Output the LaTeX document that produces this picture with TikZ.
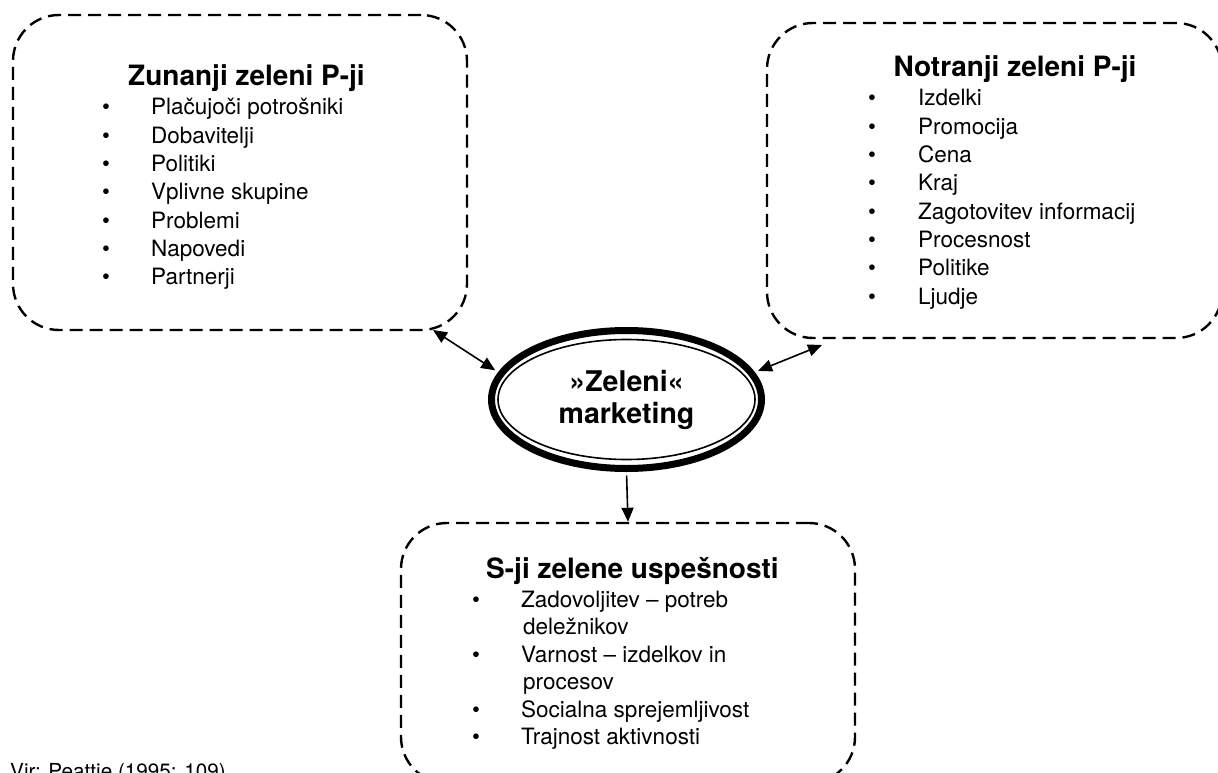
\documentclass[tikz,border=0pt]{standalone}
\usepackage{fontspec}
\setmainfont{TeX Gyre Heros}
\usetikzlibrary{arrows.meta, shapes.geometric, positioning}

\tikzset{
  okvir/.style={draw, line width=2.4pt, dash pattern=on 13pt off 7pt, rounded corners=46pt, inner sep=0pt},
  naslov/.style={anchor=base, inner sep=0pt, font=\fontsize{28}{32}\selectfont\bfseries},
  alineja/.style={anchor=base west, inner sep=0pt, font=\fontsize{22.5}{28}\selectfont},
  konica/.tip={Triangle[length=14pt, width=12pt]},
  dvopuscica/.style={line width=1.6pt, konica-konica},
  puscica/.style={line width=1.6pt, -konica}
}

\begin{document}
\begin{tikzpicture}[x=1pt, y=-1pt]
      \useasboundingbox (0,0) rectangle (1218,773);

      % okvirji
      \node[okvir, minimum width=454pt, minimum height=315pt] (zunanji) at (240,172.5) {};
      \node[okvir, minimum width=455pt, minimum height=315pt] (notranji) at (994.5,180.5) {};
      \node[okvir, minimum width=454pt, minimum height=260pt] (uspesnost) at (628,653) {};

      % naslovi
      \node[naslov] (zun-nas) at (246.5,86) {Zunanji zeleni P-ji};
      \node[naslov] (not-nas) at (1015,77) {Notranji zeleni P-ji};
      \node[naslov] (usp-nas) at (632.5,578) {S-ji zelene uspešnosti};

      % alineje
      \foreach \besedilo [count=\i] in {Plačujoči potrošniki, Dobavitelji, Politiki, Vplivne skupine, Problemi, Napovedi, Partnerji} {
        \node[alineja] (zun-b\i) at (102,{115+28.33*(\i-1)}) {\textbullet};
        \node[alineja] (zun-\i) at (151,{115+28.33*(\i-1)}) {\besedilo};
      }
      \foreach \besedilo [count=\i] in {Izdelki, Promocija, Cena, Kraj, Zagotovitev informacij, Procesnost, Politike, Ljudje} {
        \node[alineja] (not-b\i) at (868,{106+28.3*(\i-1)}) {\textbullet};
        \node[alineja] (not-\i) at (918,{106+28.3*(\i-1)}) {\besedilo};
      }
      \node[alineja] (usp-b1) at (472,607) {\textbullet};
      \node[alineja] (usp-1) at (521,607) {Zadovoljitev – potreb};
      \node[alineja] (usp-1a) at (523,634) {deležnikov};
      \node[alineja] (usp-b2) at (472,662) {\textbullet};
      \node[alineja] (usp-2) at (521,662) {Varnost – izdelkov in};
      \node[alineja] (usp-2a) at (523,689) {procesov};
      \node[alineja] (usp-b3) at (472,717) {\textbullet};
      \node[alineja] (usp-3) at (521,717) {Socialna sprejemljivost};
      \node[alineja] (usp-b4) at (472,744) {\textbullet};
      \node[alineja] (usp-4) at (521,744) {Trajnost aktivnosti};

      % sredina
      \node[ellipse, draw, line width=7pt, minimum width=270pt, minimum height=138pt, inner sep=0pt,
            align=center, font=\fontsize{28.5}{32}\selectfont\bfseries] (zeleni) at (626.5,399.5) {»Zeleni«\\marketing};
      \draw[line width=1.6pt] (zeleni.center) ellipse (128.5 and 60);

      % povezave
      \coordinate (zun-kot) at (433,330);
      \coordinate (not-kot) at (822,345);
      \draw[dvopuscica, shorten >=3.5pt] (zun-kot) -- (zeleni.168);
      \draw[dvopuscica, shorten >=3.5pt] (not-kot) -- (zeleni.12);
      \draw[puscica, shorten <=3.5pt] (zeleni.south) -- (uspesnost.north);

      \node[anchor=base west, inner sep=0pt, font=\fontsize{20.7}{24}\selectfont] (vir) at (10,778) {Vir: Peattie (1995: 109)};

    \end{tikzpicture}
\end{document}
